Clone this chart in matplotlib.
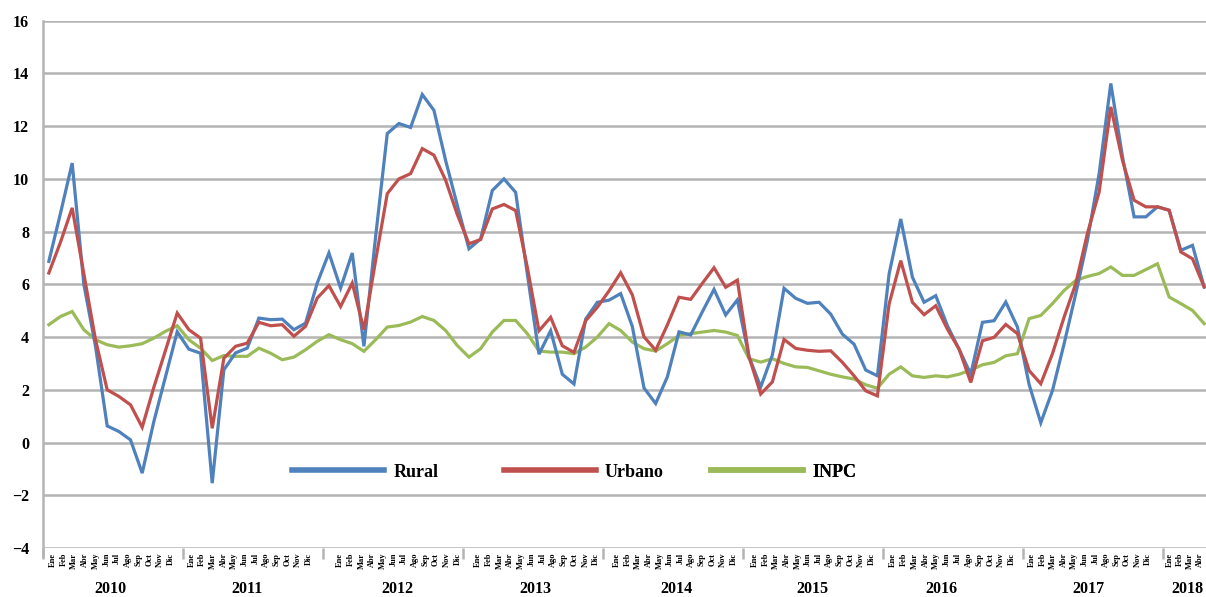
import matplotlib
matplotlib.use("Agg")
import matplotlib.pyplot as plt
from matplotlib.lines import Line2D

# Monthly annual inflation (%), Jan 2010 - Apr 2018
YEARS = ["2010", "2011", "2012", "2013", "2014", "2015", "2016", "2017", "2018"]
MONTHS = ["Ene", "Feb", "Mar", "Abr", "May", "Jun",
          "Jul", "Ago", "Sep", "Oct", "Nov", "Dic"]

rural = [
    6.87, 8.7, 10.6, 6.0, 3.65, 0.63, 0.42, 0.1, -1.16, 0.8, 2.5, 4.2,
    3.54, 3.39, -1.54, 2.76, 3.4, 3.58, 4.72, 4.66, 4.68, 4.28, 4.53, 6.05,
    7.19, 5.86, 7.19, 3.65, 7.8, 11.72, 12.1, 11.95, 13.2, 12.6, 10.7, 9.0,
    7.35, 7.72, 9.56, 10.0, 9.49, 6.4, 3.35, 4.24, 2.59, 2.22, 4.68, 5.32,
    5.4, 5.65, 4.4, 2.07, 1.48, 2.49, 4.2, 4.08, 4.96, 5.81, 4.84, 5.41,
    3.25, 2.11, 3.32, 5.85, 5.47, 5.28, 5.32, 4.87, 4.11, 3.73, 2.75, 2.53,
    6.39, 8.48, 6.27, 5.32, 5.57, 4.43, 3.54, 2.59, 4.56, 4.62, 5.33, 4.38,
    2.2, 0.75, 1.97, 3.75, 5.65, 7.67, 10.2, 13.62, 10.84, 8.56, 8.56, 8.94,
    8.81, 7.29, 7.48, 5.9,
]
urbano = [
    6.43, 7.6, 8.9, 6.4, 3.9, 2.0, 1.75, 1.43, 0.58, 2.1, 3.5, 4.91,
    4.28, 3.96, 0.54, 3.2, 3.65, 3.77, 4.56, 4.43, 4.47, 4.03, 4.41, 5.48,
    5.95, 5.16, 6.05, 4.28, 6.9, 9.44, 10.0, 10.2, 11.15, 10.9, 9.95, 8.65,
    7.54, 7.7, 8.86, 9.03, 8.8, 6.65, 4.24, 4.75, 3.67, 3.42, 4.62, 5.13,
    5.75, 6.44, 5.6, 4.01, 3.5, 4.46, 5.51, 5.43, 6.04, 6.63, 5.89, 6.16,
    3.25, 1.84, 2.3, 3.91, 3.57, 3.5, 3.46, 3.48, 3.04, 2.53, 1.96, 1.77,
    5.25, 6.9, 5.32, 4.85, 5.19, 4.3, 3.54, 2.28, 3.86, 3.99, 4.48, 4.13,
    2.73, 2.23, 3.37, 4.76, 6.03, 7.94, 9.5, 12.73, 10.7, 9.19, 8.94, 8.94,
    8.81, 7.23, 6.97, 5.9,
]
inpc = [
    4.47, 4.78, 4.97, 4.28, 3.9, 3.71, 3.62, 3.67, 3.75, 3.96, 4.22, 4.43,
    3.9, 3.58, 3.11, 3.3, 3.27, 3.27, 3.58, 3.39, 3.14, 3.24, 3.52, 3.84,
    4.09, 3.9, 3.75, 3.46, 3.9, 4.38, 4.44, 4.57, 4.78, 4.63, 4.25, 3.68,
    3.24, 3.56, 4.19, 4.63, 4.63, 4.13, 3.47, 3.43, 3.43, 3.37, 3.62, 4.0,
    4.51, 4.25, 3.81, 3.56, 3.47, 3.75, 4.06, 4.13, 4.19, 4.25, 4.19, 4.06,
    3.18, 3.05, 3.18, 3.0, 2.87, 2.85, 2.72, 2.59, 2.49, 2.41, 2.19, 2.06,
    2.59, 2.87, 2.53, 2.47, 2.53, 2.49, 2.59, 2.75, 2.95, 3.04, 3.29, 3.37,
    4.7, 4.82, 5.27, 5.77, 6.15, 6.3, 6.41, 6.66, 6.34, 6.34, 6.56, 6.78,
    5.52, 5.27, 5.01, 4.51,
]

# layout of the hand placed month / year labels (category units)
MONTH_START = [0.33, 0.24, 0.95, 0.78, 0.69, 0.5, 0.34, 0.25, 0.1]
MONTH_STEP = [0.92, 0.91, 0.914, 0.92, 0.91, 0.91, 0.927, 0.905, 0.85]
YEAR_POS = [5.3, 16.95, 29.9, 41.65, 53.75, 65.4, 76.5, 89.05, 97.6]

C_RURAL = "#4f81bd"
C_URB = "#c0504d"
C_INPC = "#9bbb59"
GRID = "#b4b4b4"
SERIF = "Liberation Serif"

plt.rcParams["font.family"] = SERIF
plt.rcParams["font.weight"] = "bold"

fig = plt.figure(figsize=(12.06, 5.97), dpi=100)
ax = fig.add_axes([43 / 1206, 49 / 597, 1167 / 1206, 527.3 / 597])

n = len(rural)
x = list(range(n))
ax.plot(x, rural, color=C_RURAL, lw=2.3, solid_joinstyle="miter", zorder=3)
ax.plot(x, urbano, color=C_URB, lw=2.3, solid_joinstyle="miter", zorder=4)
ax.plot(x, inpc, color=C_INPC, lw=2.3, solid_joinstyle="miter", zorder=2)

ax.set_xlim(-0.5, n - 0.5)
ax.set_ylim(-4, 16)
ax.set_yticks(range(-4, 17, 2))
ax.yaxis.grid(True, color=GRID, lw=1.8)
ax.set_axisbelow(True)
ax.tick_params(axis="y", length=0, pad=10, labelsize=11.5)
for lbl in ax.get_yticklabels():
    lbl.set_fontweight("bold")

for s in ["top", "right", "bottom"]:
    ax.spines[s].set_visible(False)
ax.spines["left"].set_color(GRID)
ax.spines["left"].set_linewidth(1.8)
ax.spines["left"].set_bounds(-4.3, 16)

# year separators
ax.set_xticks([12 * k - 0.5 for k in range(len(YEARS))])
ax.set_xticklabels([])
ax.tick_params(axis="x", which="major", length=8, width=1.8, color=GRID)

# month labels
mpos, mlab = [], []
for k in range(len(YEARS)):
    cnt = min(12, n - 12 * k)
    for j in range(cnt):
        mpos.append(12 * k + MONTH_START[k] + MONTH_STEP[k] * j)
        mlab.append(MONTHS[j])
ax.set_xticks(mpos, minor=True)
ax.set_xticklabels(mlab, minor=True, rotation=90, fontsize=6,
                   fontweight="bold")
ax.tick_params(axis="x", which="minor", length=0, pad=3.5)

for k, yr in enumerate(YEARS):
    ax.text(YEAR_POS[k], -0.078, yr, transform=ax.get_xaxis_transform(),
            ha="center", va="center", fontsize=11.5, fontweight="bold")

# legend, one entry per block as in the original
for lab, col, xa in [("Rural", C_RURAL, 0.2134), ("Urbano", C_URB, 0.395),
                     ("INPC", C_INPC, 0.5724)]:
    h = Line2D([], [], color=col, lw=4)
    lg = ax.legend([h], [lab], loc="center left", bbox_to_anchor=(xa, 0.144),
                   frameon=False, borderpad=0, borderaxespad=0,
                   handlelength=5.1, handletextpad=0.5,
                   prop={"family": SERIF, "weight": "bold", "size": 13})
    ax.add_artist(lg)

fig.savefig("out.png", dpi=100)
